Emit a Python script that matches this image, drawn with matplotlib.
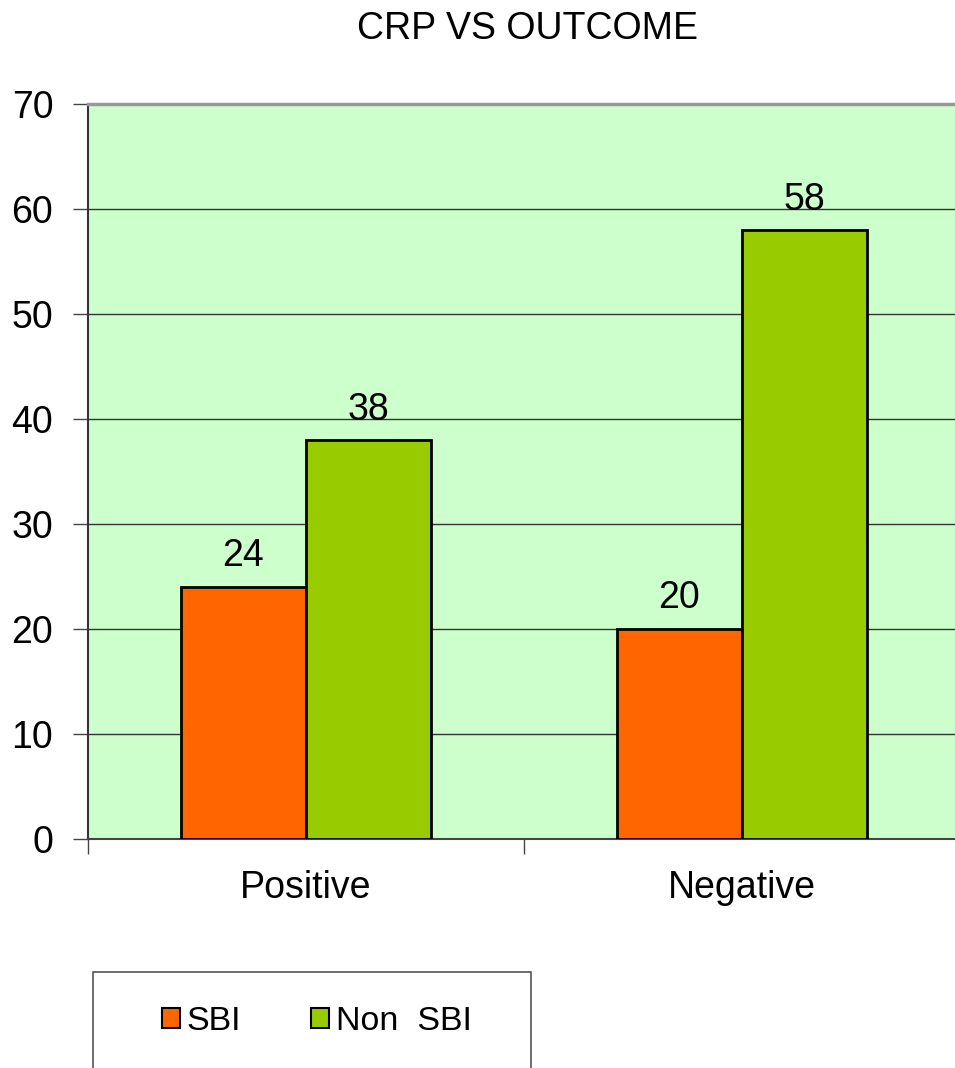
import numpy as np
import matplotlib.pyplot as plt
from matplotlib.patches import Rectangle, Patch

plt.rcParams.update({
    "font.family": ["Liberation Sans", "DejaVu Sans"],
})

categories = ["Positive", "Negative"]
sbi = [24, 20]
non_sbi = [38, 58]
series_names = ["SBI", "Non  SBI"]
y_ticks = [0, 10, 20, 30, 40, 50, 60, 70]

ORANGE = "#FF6600"
GREEN = "#99CC00"
PLOT_BG = "#CCFFCC"
FS = 27

W, H = 955, 1068
fig = plt.figure(figsize=(W / 100, H / 100), dpi=100)
ax = fig.add_axes([88 / W, 1 - 839 / H, 872 / W, 735 / H])
ax.set_facecolor(PLOT_BG)

x = np.arange(len(categories))
width = 0.287
ax.bar(x - width / 2, sbi, width, color=ORANGE, edgecolor="black", linewidth=2, zorder=3)
ax.bar(x + width / 2, non_sbi, width, color=GREEN, edgecolor="black", linewidth=2, zorder=3)

for xi, v in zip(x - width / 2, sbi):
    ax.annotate(str(v), (xi, v), xytext=(0, 9), textcoords="offset points",
                ha="center", va="bottom", fontsize=FS, zorder=4)
for xi, v in zip(x + width / 2, non_sbi):
    ax.annotate(str(v), (xi, v), xytext=(0, 9), textcoords="offset points",
                ha="center", va="bottom", fontsize=FS, zorder=4)

ax.set_xlim(-0.5, 1.5)
ax.set_ylim(0, 70)
ax.set_yticks(y_ticks)
ax.set_yticklabels([str(t) for t in y_ticks], fontsize=FS)
ax.tick_params(axis="y", direction="out", length=11, width=1, color="#444444", pad=14)

# category labels centred, tick marks on the boundaries
ax.set_xticks([-0.5, 0.5, 1.5])
ax.set_xticklabels([])
ax.set_xticks(x, minor=True)
ax.set_xticklabels(categories, minor=True, fontsize=FS)
ax.tick_params(axis="x", which="major", direction="out", length=11, width=1, color="#444444")
ax.tick_params(axis="x", which="minor", length=0, pad=22)

ax.yaxis.grid(True, color="#333333", linewidth=1, zorder=1)
ax.set_axisbelow(True)

ax.spines["left"].set_color("#333333")
ax.spines["left"].set_linewidth(1.5)
ax.spines["bottom"].set_color("#444444")
ax.spines["bottom"].set_linewidth(1.5)
ax.spines["top"].set_color("#999999")
ax.spines["top"].set_linewidth(2.5)
ax.spines["right"].set_color("#999999")

fig.text(527 / W, 1 - 29 / H, "CRP VS OUTCOME", ha="center", va="center", fontsize=FS)

# legend box
fig.patches.append(Rectangle((93 / W, -0.05), (531 - 93) / W, 1 - 972 / H + 0.05,
                             transform=fig.transFigure, facecolor="white",
                             edgecolor="#555555", linewidth=1.2))
handles = [Patch(facecolor=ORANGE, edgecolor="black", linewidth=1.5),
           Patch(facecolor=GREEN, edgecolor="black", linewidth=1.5)]
fig.legend(handles, series_names, loc="center left", bbox_to_anchor=(162 / W, 1 - 1022 / H),
           ncol=2, frameon=False, fontsize=24.5, handlelength=0.53, handleheight=0.53,
           handletextpad=0.2, columnspacing=2.05, borderpad=0, borderaxespad=0)

fig.savefig("out.png", dpi=100)
